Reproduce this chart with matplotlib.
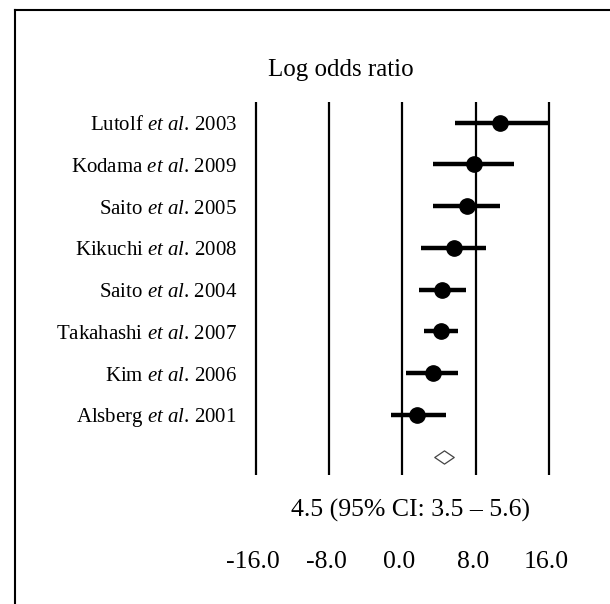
import matplotlib
matplotlib.use("Agg")
import matplotlib.pyplot as plt
from matplotlib.path import Path
from matplotlib.transforms import offset_copy

plt.rcParams['font.family'] = ['Liberation Serif', 'DejaVu Serif']
plt.rcParams['mathtext.fontset'] = 'custom'
plt.rcParams['mathtext.rm'] = 'Liberation Serif'
plt.rcParams['mathtext.it'] = 'Liberation Serif:italic'

# ---- data ----
authors = ["Lutolf", "Kodama", "Saito", "Kikuchi", "Saito", "Takahashi", "Kim", "Alsberg"]
years = ["2003", "2009", "2005", "2008", "2004", "2007", "2006", "2001"]
estimates = [10.7, 7.8, 7.0, 5.6, 4.3, 4.2, 3.3, 1.6]
ci_low = [5.7, 3.3, 3.3, 2.0, 1.8, 2.4, 0.4, -1.3]
ci_high = [15.9, 12.2, 10.7, 9.1, 6.9, 6.1, 6.1, 4.7]
pooled = 4.5
pooled_low = 3.5
pooled_high = 5.6
ticks = [-16, -8, 0, 8, 16]
tick_labels = ["-16.0", "-8.0", "0.0", "8.0", "16.0"]
title = "Log odds ratio"

W, H = 610, 604
fig = plt.figure(figsize=(W / 100, H / 100), dpi=100)
ax = fig.add_axes([0, 0, 1, 1])
ax.set_axis_off()

# pixel mapping: x=-16 -> 256px, x=16 -> 549px ; row 0 -> 122.7px, spacing 41.75px
sx = (549 - 256) / 32.0
x0 = -16 - 256 / sx
x1 = 16 + (W - 549) / sx
sy = 41.75
y0 = -122.7 / sy
y1 = (H - 122.7) / sy
ax.set_xlim(x0, x1)
ax.set_ylim(y1, y0)

n = len(estimates)
rows = list(range(n))

# vertical reference lines
for t in ticks:
    ax.plot([t, t], [-0.5, n + 0.45], color='black', lw=1.6, solid_capstyle='butt', zorder=1)

# CIs and points
for r, e, lo, hi in zip(rows, estimates, ci_low, ci_high):
    ax.plot([lo, hi], [r, r], color='black', lw=3.2, solid_capstyle='butt', zorder=2)
    ax.plot([e], [r], marker='o', color='black', markersize=11, zorder=3)

# labels
label_x = -16 - (256 - 237) / sx
for r, a, y in zip(rows, authors, years):
    ax.text(label_x, r + 0.07, a + r" $\mathit{et\ al}$. " + y, ha='right', va='center',
            fontsize=15)

# pooled diamond
diamond = Path([(-1, 0), (0, 0.68), (1, 0), (0, -0.68), (-1, 0)],
               [Path.MOVETO, Path.LINETO, Path.LINETO, Path.LINETO, Path.CLOSEPOLY])
ax.plot([pooled], [n], marker=diamond, markersize=14, markerfacecolor='white',
        markeredgecolor='#444444', markeredgewidth=0.9, zorder=3)

# title
ax.text(x0 + 341 / sx, (70 - 122.7) / sy, title, ha='center', va='center', fontsize=18)

# summary text
ax.text(x0 + 411 / sx, (510 - 122.7) / sy,
        f"{pooled:.1f} (95% CI: {pooled_low:.1f} \u2013 {pooled_high:.1f})",
        ha='center', va='center', fontsize=18.5)

# tick labels
tr = offset_copy(ax.transData, fig=fig, x=-3, y=0, units='dots')
for t, lab in zip(ticks, tick_labels):
    ax.text(t, (562 - 122.7) / sy, lab, ha='center', va='center', fontsize=18.5, transform=tr)

# border (top and left only, as in cropped reference)
fig.add_artist(plt.Line2D([15 / W, 1], [1 - 9.5 / H, 1 - 9.5 / H], color='black', lw=1.5,
                          transform=fig.transFigure))
fig.add_artist(plt.Line2D([15 / W, 15 / W], [0, 1 - 9.5 / H], color='black', lw=1.5,
                          transform=fig.transFigure))

fig.savefig("out.png", dpi=100)
